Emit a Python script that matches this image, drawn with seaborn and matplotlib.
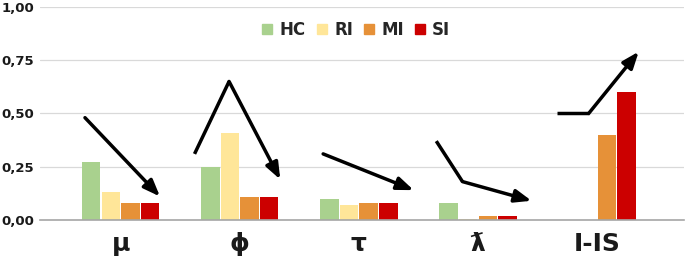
import numpy as np
import pandas as pd
import seaborn as sns
from matplotlib import pyplot as plt
from matplotlib.patches import Patch
from matplotlib.ticker import FuncFormatter

# parameters and groups
params = ['μ', 'ϕ', 'τ', 'ƛ', 'I-IS']
groups = ['HC', 'RI', 'MI', 'SI']
colors = ['#A9D18E', '#FFE699', '#E69138', '#CC0000']

# values per group (one value for each parameter)
hc = [0.27, 0.25, 0.10, 0.08, 0.00]
ri = [0.13, 0.41, 0.07, 0.005, 0.00]
mi = [0.08, 0.11, 0.08, 0.02, 0.40]
si = [0.08, 0.11, 0.08, 0.02, 0.60]

# trend arrows drawn over each parameter (x in category units, y in data units)
trend_x = [[-0.30, 0.33], [0.62, 0.91, 1.34], [1.70, 2.46], [2.65, 2.87, 3.45], [3.66, 3.93, 4.35]]
trend_y = [[0.48, 0.11], [0.31, 0.65, 0.19], [0.31, 0.14], [0.37, 0.18, 0.09], [0.50, 0.50, 0.79]]

df = pd.DataFrame({
    'param': params * 4,
    'group': [g for g in groups for _ in params],
    'value': hc + ri + mi + si,
})

sns.set_style('white')
plt.rcParams['font.family'] = ['DejaVu Sans']

fig = plt.figure(figsize=(6.85, 2.65), dpi=100)
ax = fig.add_axes([0.058, 0.170, 0.9405, 0.804])

sns.barplot(data=df, x='param', y='value', hue='group', order=params, hue_order=groups,
            palette=colors, saturation=1, width=0.66, gap=0.06, linewidth=0, ax=ax, legend=False)

# trends
for xs, ys in zip(trend_x, trend_y):
    ax.plot(xs[:-1], ys[:-1], color='black', lw=2.5, solid_capstyle='butt', solid_joinstyle='miter')
    ax.annotate('', xy=(xs[-1], ys[-1]), xytext=(xs[-2], ys[-2]),
                arrowprops=dict(arrowstyle='-|>,head_length=0.9,head_width=0.35', color='black',
                                lw=2.5, shrinkA=0, shrinkB=0, mutation_scale=11))

ax.set_ylim(0, 1.0)
ax.set_xlim(-0.68, 4.73)
ax.set_yticks([0, 0.25, 0.5, 0.75, 1.0])
ax.yaxis.set_major_formatter(FuncFormatter(lambda v, p: f'{v:.2f}'.replace('.', ',')))
ax.grid(axis='y', color='#D9D9D9', lw=0.9)
ax.set_axisbelow(True)
for s in ['left', 'right', 'top']:
    ax.spines[s].set_visible(False)
ax.spines['bottom'].set_color('#A6A6A6')
ax.spines['bottom'].set_linewidth(1.2)
ax.set_xlabel('')
ax.set_ylabel('')
ax.tick_params(axis='y', length=0, pad=4, labelsize=9.5)
ax.tick_params(axis='x', length=0, pad=9, labelsize=18)
for lab in ax.get_yticklabels() + ax.get_xticklabels():
    lab.set_fontweight('bold')
    lab.set_color('#1a1a1a')

handles = [Patch(color=c, label=g) for g, c in zip(groups, colors)]
fig.legend(handles=handles, loc='center', bbox_to_anchor=(0.52, 0.887), ncol=4, frameon=False,
           handlelength=0.6, handleheight=0.6, handletextpad=0.45, columnspacing=0.65,
           prop={'weight': 'bold', 'size': 12})

fig.savefig('out.png', dpi=100)
